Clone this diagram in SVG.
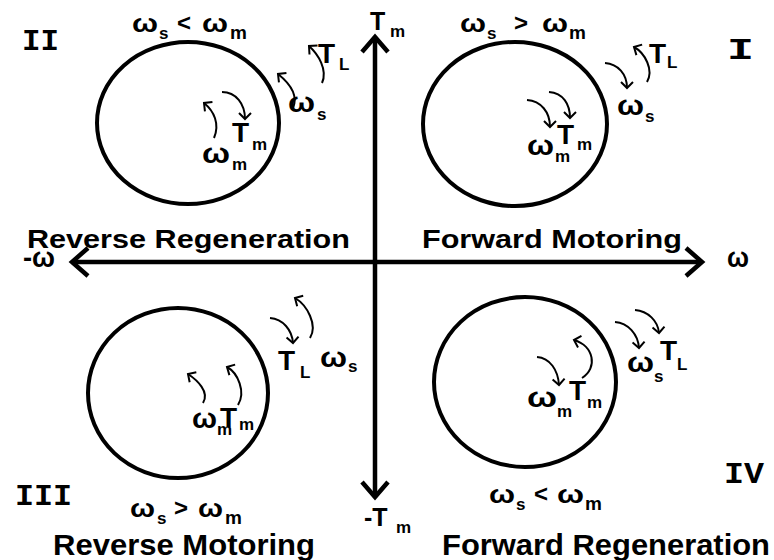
<svg xmlns="http://www.w3.org/2000/svg" width="774" height="560" viewBox="0 0 774 560">
<defs>
<style>
.s{font-family:"Liberation Sans",Arial,sans-serif;font-weight:bold;fill:#000}
.cap{font-size:25px}
.cap2{font-size:30px}
.g{font-size:28px}
.sb{font-size:17px}
.iq{font-size:26px}
.rn{font-family:"Liberation Mono","Courier New",monospace;font-weight:bold;font-size:30px;fill:#000}
.ax{fill:none;stroke:#000;stroke-width:4.5;stroke-linejoin:miter}
.cir{fill:none;stroke:#000;stroke-width:4}
.cv{fill:none;stroke:#000;stroke-width:2;marker-end:url(#ah)}
</style>
<marker id="ah" viewBox="-8 -7 10 14" refX="0" refY="0" markerWidth="10" markerHeight="14" orient="auto" markerUnits="userSpaceOnUse">
<path d="M-6,-6 L0,0 L-6,6" fill="none" stroke="#000" stroke-width="2"/>
</marker>
</defs>
<rect width="774" height="560" fill="#fff"/>

<g id="connectors">
<line class="ax" x1="375" y1="39" x2="375" y2="495"/>
<polyline class="ax" points="362,52 375,37 388,52"/>
<polyline class="ax" points="362,482 375,497 388,482"/>
<line class="ax" x1="74" y1="262" x2="700" y2="262"/>
<polyline class="ax" points="88,248 72,262 88,276"/>
<polyline class="ax" points="686,248 702,262 686,276"/>
</g>

<g id="axis-labels">
<text class="s"><tspan x="370" y="30" font-size="25">T</tspan><tspan x="390" y="37" font-size="17">m</tspan></text>
<text class="s"><tspan x="364" y="526" font-size="25">-T</tspan><tspan x="396" y="533" font-size="17">m</tspan></text>
<text class="s g" x="23" y="267" textLength="32" lengthAdjust="spacingAndGlyphs">-ω</text>
<text class="s g" x="727" y="267" textLength="22" lengthAdjust="spacingAndGlyphs">ω</text>
<text class="s cap" x="27" y="248" textLength="323" lengthAdjust="spacingAndGlyphs">Reverse Regeneration</text>
<text class="s cap" x="422" y="248" textLength="260" lengthAdjust="spacingAndGlyphs">Forward Motoring</text>
<text class="s cap2" x="53" y="555" textLength="262" lengthAdjust="spacingAndGlyphs">Reverse Motoring</text>
<text class="s cap2" x="442" y="555" textLength="328" lengthAdjust="spacingAndGlyphs">Forward Regeneration</text>
</g>

<g id="q2">
<text class="rn" x="22" y="50" textLength="37" lengthAdjust="spacingAndGlyphs">II</text>
<text class="s iq"><tspan x="132" y="32" textLength="26" lengthAdjust="spacingAndGlyphs">ω</tspan><tspan x="159" y="39" font-size="17">s</tspan><tspan x="177" y="31" font-size="24">&lt;</tspan><tspan x="202" y="32" textLength="26" lengthAdjust="spacingAndGlyphs">ω</tspan><tspan x="230" y="39" font-size="19">m</tspan></text>
<ellipse class="cir" cx="188" cy="123" rx="91" ry="81"/>
<path class="cv" d="M322,83 C328,70 318,54 309,46"/>
<path class="cv" d="M293,108 C299,94 288,82 278,74"/>
<path class="cv" d="M214,138 C220,124 214,111 204,103"/>
<path class="cv" d="M222,92 C236,92 245,104 245,119"/>
<text class="s g"><tspan x="318" y="63">T</tspan><tspan class="sb" x="339" y="70">L</tspan></text>
<text class="s g"><tspan x="288" y="112" textLength="27" lengthAdjust="spacingAndGlyphs">ω</tspan><tspan class="sb" x="317" y="120">s</tspan></text>
<text class="s g"><tspan x="232" y="142">T</tspan><tspan class="sb" x="252" y="150">m</tspan></text>
<text class="s g"><tspan x="202" y="163" textLength="28" lengthAdjust="spacingAndGlyphs">ω</tspan><tspan class="sb" x="232" y="170">m</tspan></text>
</g>

<g id="q1">
<text class="rn" x="727" y="59" textLength="27" lengthAdjust="spacingAndGlyphs">I</text>
<text class="s iq"><tspan x="460" y="32" textLength="26" lengthAdjust="spacingAndGlyphs">ω</tspan><tspan x="487" y="39" font-size="17">s</tspan><tspan x="514" y="31" font-size="24">&gt;</tspan><tspan x="542" y="32" textLength="26" lengthAdjust="spacingAndGlyphs">ω</tspan><tspan x="569" y="39" font-size="19">m</tspan></text>
<ellipse class="cir" cx="515" cy="124" rx="92" ry="82"/>
<path class="cv" d="M647,82 C654,70 645,53 634,47"/>
<path class="cv" d="M605,63 C618,64 627,74 627,88"/>
<path class="cv" d="M527,100 C541,101 550,112 550,127"/>
<path class="cv" d="M549,92 C563,93 570,104 570,118"/>
<text class="s g"><tspan x="649" y="63">T</tspan><tspan class="sb" x="667" y="68">L</tspan></text>
<text class="s g"><tspan x="617" y="115" textLength="27" lengthAdjust="spacingAndGlyphs">ω</tspan><tspan class="sb" x="645" y="122">s</tspan></text>
<text class="s g"><tspan x="557" y="144">T</tspan><tspan class="sb" x="577" y="150">m</tspan></text>
<text class="s g"><tspan x="527" y="155" textLength="27" lengthAdjust="spacingAndGlyphs">ω</tspan><tspan class="sb" x="555" y="162">m</tspan></text>
</g>

<g id="q3">
<text class="rn" x="15" y="505" textLength="57" lengthAdjust="spacingAndGlyphs">III</text>
<text class="s iq"><tspan x="130" y="517" textLength="25" lengthAdjust="spacingAndGlyphs">ω</tspan><tspan x="157" y="524" font-size="17">s</tspan><tspan x="174" y="516" font-size="24">&gt;</tspan><tspan x="198" y="517" textLength="25" lengthAdjust="spacingAndGlyphs">ω</tspan><tspan x="225" y="524" font-size="19">m</tspan></text>
<ellipse class="cir" cx="178" cy="393" rx="90" ry="85"/>
<path class="cv" d="M270,318 C283,319 292,330 293,343"/>
<path class="cv" d="M310,338 C318,325 307,305 295,298"/>
<path class="cv" d="M203,403 C210,392 197,380 188,374"/>
<path class="cv" d="M238,405 C246,392 238,373 227,367"/>
<text class="s g"><tspan x="278" y="370">T</tspan><tspan class="sb" x="300" y="378">L</tspan></text>
<text class="s g"><tspan x="320" y="367" textLength="27" lengthAdjust="spacingAndGlyphs">ω</tspan><tspan class="sb" x="348" y="372">s</tspan></text>
<text class="s g"><tspan x="192" y="428" textLength="25" lengthAdjust="spacingAndGlyphs">ω</tspan><tspan class="sb" x="217" y="435">m</tspan></text>
<text class="s g"><tspan x="220" y="427">T</tspan><tspan class="sb" x="239" y="430">m</tspan></text>
</g>

<g id="q4">
<text class="rn" x="724" y="483" textLength="40" lengthAdjust="spacingAndGlyphs">IV</text>
<text class="s iq"><tspan x="489" y="503" textLength="26" lengthAdjust="spacingAndGlyphs">ω</tspan><tspan x="516" y="510" font-size="17">s</tspan><tspan x="534" y="502" font-size="24">&lt;</tspan><tspan x="557" y="503" textLength="27" lengthAdjust="spacingAndGlyphs">ω</tspan><tspan x="585" y="510" font-size="19">m</tspan></text>
<ellipse class="cir" cx="525" cy="382" rx="91" ry="85"/>
<path class="cv" d="M615,322 C628,323 638,334 639,348"/>
<path class="cv" d="M635,310 C648,311 658,321 659,333"/>
<path class="cv" d="M537,357 C550,358 558,370 559,385"/>
<path class="cv" d="M582,378 C598,368 594,346 574,340"/>
<text class="s g"><tspan x="627" y="372" textLength="27" lengthAdjust="spacingAndGlyphs">ω</tspan><tspan class="sb" x="654" y="382">s</tspan></text>
<text class="s g"><tspan x="660" y="360">T</tspan><tspan class="sb" x="677" y="370">L</tspan></text>
<text class="s g"><tspan x="569" y="400">T</tspan><tspan class="sb" x="587" y="408">m</tspan></text>
<text class="s g"><tspan x="527" y="407" textLength="30" lengthAdjust="spacingAndGlyphs">ω</tspan><tspan class="sb" x="557" y="417">m</tspan></text>
</g>
</svg>
